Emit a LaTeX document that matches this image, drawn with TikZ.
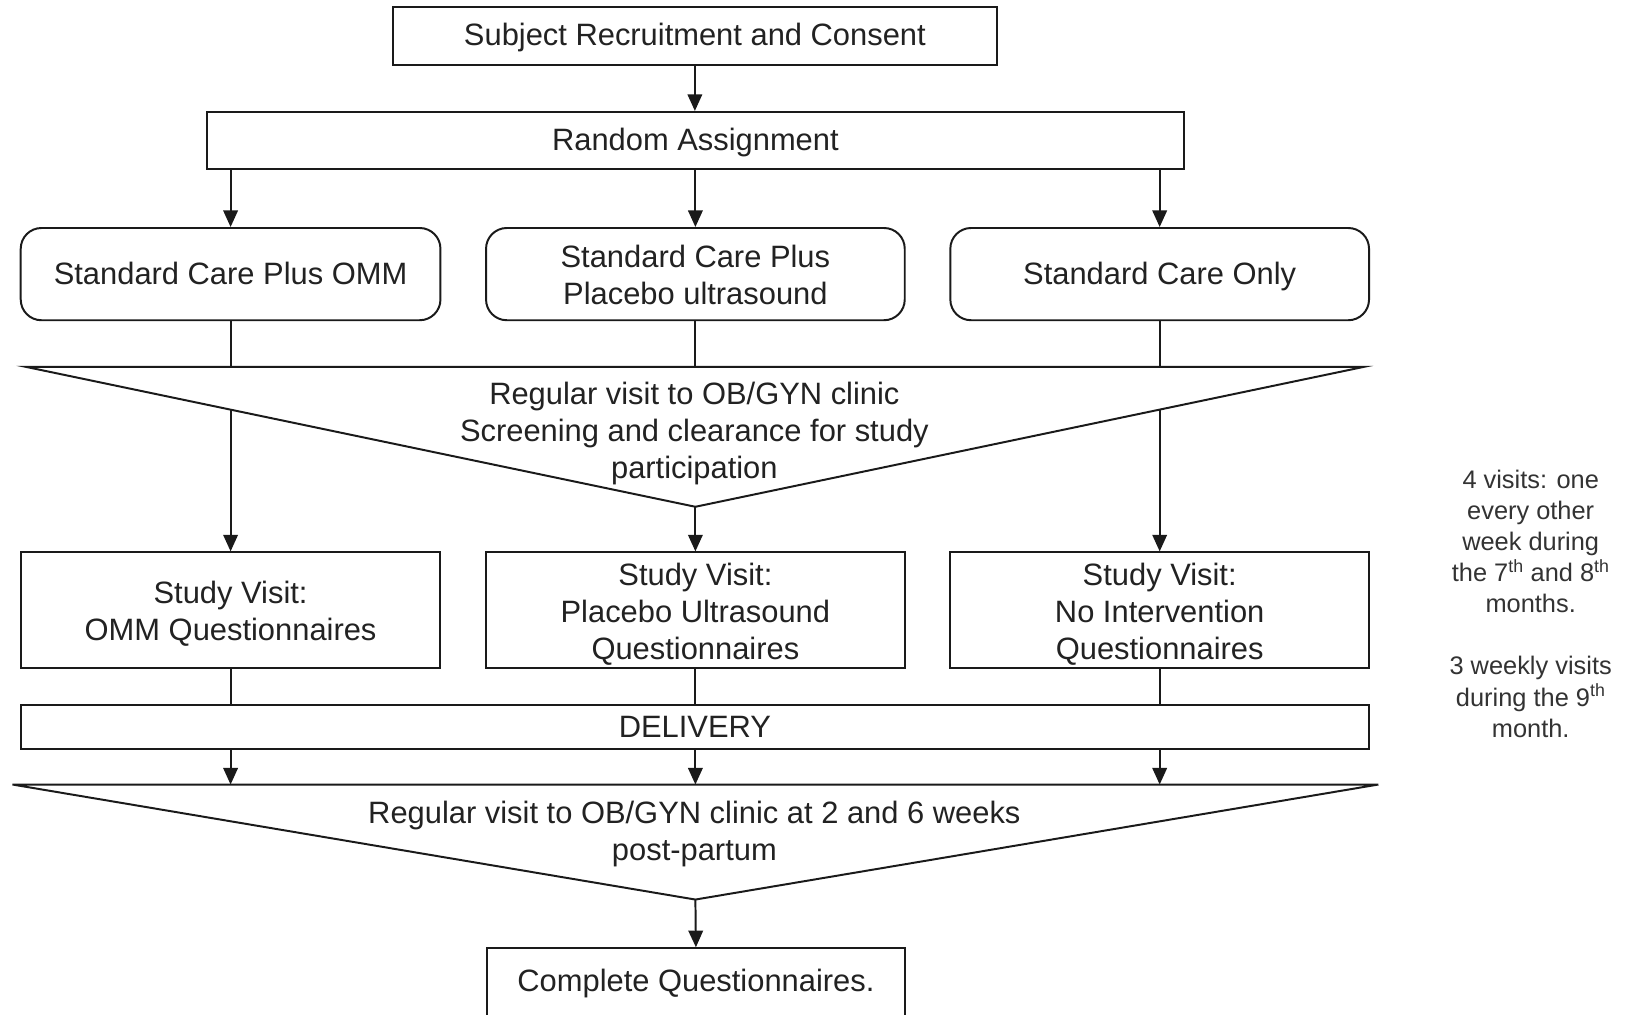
\documentclass[tikz,border=0pt]{standalone}
\usepackage{fontspec}
\setmainfont{Liberation Sans}
\usetikzlibrary{arrows.meta,calc}
\definecolor{ink}{HTML}{1A1A1A}
\definecolor{txt}{HTML}{222222}
\definecolor{note}{HTML}{333333}
\newcommand{\mystrut}{\rule[-8pt]{0pt}{36pt}}
\newcommand{\mytallstrut}{\rule{0pt}{31pt}}
\tikzset{
  base/.style={draw=ink, line width=1.9pt, fill=white, inner sep=0pt, align=center,
    text=txt, font=\fontsize{29.8}{35.5}\selectfont,
    execute at begin node=\mystrut, execute at end node=\mystrut},
  sqbox/.style={base},
  rbox/.style={base, rounded corners=20pt},
  conn/.style={draw=ink, line width=1.9pt},
  arr/.style={conn, -{Triangle[length=16pt,width=14pt]}},
  tri/.style={draw=ink, line width=1.9pt, fill=white, line join=miter},
  plain/.style={inner sep=0pt, align=center, text=txt, font=\fontsize{29.8}{35.5}\selectfont},
  notetext/.style={inner sep=0pt, align=center, text=note, font=\fontsize{24.5}{30}\selectfont}
}
\begin{document}
\begin{tikzpicture}[x=1pt,y=-1pt]
\fill[white] (0,0) rectangle (1568,979);
\useasboundingbox (0,0) rectangle (1568,979);

% boxes
\node[sqbox, minimum width=583pt, minimum height=56pt] (top) at (670.5,35) {\raisebox{1.5pt}{Subject Recruitment and Consent}};
\node[sqbox, minimum width=942pt, minimum height=55pt] (rand) at (671,135.5) {Random Assignment};

\node[rbox, minimum width=405pt, minimum height=89pt] (r1) at (222.5,264.5) {Standard Care Plus OMM};
\node[rbox, minimum width=404pt, minimum height=89pt] (r2) at (671,264.5) {\mytallstrut Standard Care Plus\\Placebo ultrasound};
\node[rbox, minimum width=404pt, minimum height=89pt] (r3) at (1119,264.5) {Standard Care Only};

\node[sqbox, minimum width=405pt, minimum height=112pt] (s1) at (222.5,589) {\mytallstrut Study Visit:\\OMM Questionnaires};
\node[sqbox, minimum width=404pt, minimum height=112pt] (s2) at (671,589) {\mytallstrut Study Visit:\\Placebo Ultrasound\\Questionnaires};
\node[sqbox, minimum width=404pt, minimum height=112pt] (s3) at (1119,589) {\mytallstrut Study Visit:\\No Intervention\\Questionnaires};

\node[sqbox, minimum width=1301pt, minimum height=43pt] (deliv) at (670.5,701.5) {DELIVERY};

\node[sqbox, minimum width=403pt, minimum height=90pt, anchor=north, execute at begin node={}, execute at end node={}] (final) at (671.5,914) {};
\node[plain] (finaltext) at (671.5,949) {Complete Questionnaires.};

% triangle coordinates
\coordinate (t1l) at (25,354);
\coordinate (t1r) at (1316,354);
\coordinate (t1a) at (671,489);
\coordinate (t2l) at (12,757);
\coordinate (t2r) at (1330,757);
\coordinate (t2a) at (671,868);

% connectors
\draw[arr] (top.south) -- (top.south |- rand.north);
\foreach \i in {1,2,3}{
  \draw[arr] (rand.south -| r\i.north) -- (r\i.north);
  \draw[arr] (r\i.south) -- (s\i.north);
  \draw[conn] (s\i.south) -- (deliv.north -| s\i.south);
  \draw[arr] (deliv.south -| s\i.south) -- (t2l -| s\i.south);
}
\draw[arr] (t2a) -- (final.north);

% triangles drawn over the through lines
\draw[tri] (t1l) -- (t1r) -- (t1a) -- cycle;
\draw[tri] (t2l) -- (t2r) -- (t2a) -- cycle;
\draw[conn] (r1.south) -- (t1l -| r1.south);
\draw[conn] (r2.south) -- (t1l -| r2.south);
\draw[conn] (r3.south) -- (t1l -| r3.south);

\node[plain] (tri1text) at (670,418.5) {Regular visit to OB/GYN clinic\\Screening and clearance for study\\participation};
\node[plain] (tri2text) at (670,805) {Regular visit to OB/GYN clinic at 2 and 6 weeks\\post-partum};

% side note
\node[notetext] (sidenote) at (1477,582.5) {4 visits: one\\every other\\week during\\the 7\textsuperscript{th} and 8\textsuperscript{th}\\months.\\[30pt]3 weekly visits\\during the 9\textsuperscript{th}\\month.};
\end{tikzpicture}
\end{document}
